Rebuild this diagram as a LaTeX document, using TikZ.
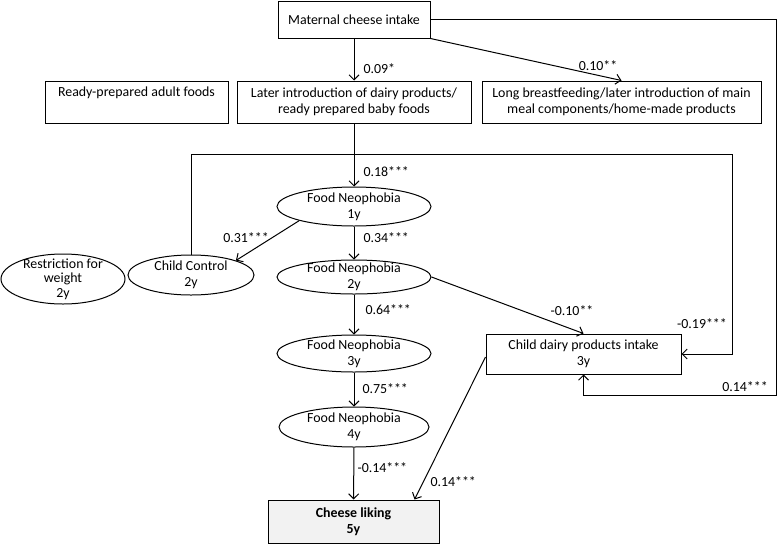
\documentclass[tikz,border=0pt]{standalone}
\usepackage{fontspec}
\setmainfont{Carlito}
\usetikzlibrary{arrows.meta,shapes.geometric}
\begin{document}
\begin{tikzpicture}[x=1pt,y=-1pt, font=\fontsize{13.9}{16}\selectfont, line width=1pt,
 arr/.style={-{Straight Barb[length=5pt,width=10pt]}},
 box/.style={draw, rectangle, inner sep=0pt, align=center},
 ell/.style={draw, ellipse, inner xsep=0pt, inner ysep=-3pt, align=center},
 lab/.style={inner sep=1pt}]
\useasboundingbox (0,0) rectangle (778,544);
% nodes
\node[box, minimum width=152pt, minimum height=37pt] (mat) at (354,19.5) {Maternal cheese intake};
\node[box, minimum width=183pt, minimum height=42pt] (adult) at (136.5,102) {Ready-prepared adult foods\\\strut};
\node[box, minimum width=234pt, minimum height=42pt] (later) at (354,102) {Later introduction of dairy products/\\ready prepared baby foods};
\node[box, minimum width=279pt, minimum height=42pt] (long) at (621.5,102) {Long breastfeeding/later introduction of main\\meal components/home-made products};
\node[ell, minimum width=154pt, minimum height=39pt] (fn1) at (354,206.5) {Food Neophobia\\1y};
\node[ell, minimum width=154pt, minimum height=34pt] (fn2) at (354,277) {Food Neophobia\\2y};
\node[ell, minimum width=154pt, minimum height=37pt] (fn3) at (354,353.5) {Food Neophobia\\3y};
\node[ell, minimum width=150pt, minimum height=40pt] (fn4) at (354,427) {Food Neophobia\\4y};
\node[ell, minimum width=126pt, minimum height=40pt] (cc) at (191,275) {Child Control\\2y};
\node[ell, minimum width=124pt, minimum height=50pt, inner ysep=-9pt, font=\fontsize{13.9}{14.5}\selectfont] (rw) at (63,279) {Restriction for\\weight\\2y};
\node[box, minimum width=195pt, minimum height=40pt] (dairy) at (583.5,354) {Child dairy products intake\\3y};
\node[box, fill=gray!10, minimum width=171pt, minimum height=43pt, font=\fontsize{13.9}{16}\selectfont\bfseries] (cheese) at (353.5,521.5) {Cheese liking\\5y};
% helper coordinates
\coordinate (c1) at (776,395);
\coordinate (c2) at (732,154);
% connectors
\draw[arr] (mat) -- (later);
\draw[arr] (mat.south east) -- (long.north);
\draw[arr] (mat.east) -| (c1) -| (dairy.south);
\draw[arr] (later) -- (fn1);
\draw[arr] (cc.north) |- (c2) |- (dairy.east);
\draw[arr] (fn1.south west) -- (cc.north east);
\draw[arr] (fn1) -- (fn2);
\draw[arr] (fn2) -- (fn3);
\draw[arr] (fn3) -- (fn4);
\draw[arr] (fn4) -- (cheese);
\draw[arr] (fn2.east) -- (dairy.north);
\draw[arr] ([yshift=-3pt]dairy.west) -- ([xshift=-25pt]cheese.north east);
% labels
\node[lab, anchor=west] (l1) at (362,69) {0.09*};
\node[lab] (l2) at (598,66) {0.10**};
\node[lab] (l3) at (745,387) {0.14***};
\node[lab, anchor=west] (l4) at (362,172) {0.18***};
\node[lab] (l5) at (702,324) {-0.19***};
\node[lab] (l6) at (246,238) {0.31***};
\node[lab, anchor=west] (l7) at (362,238) {0.34***};
\node[lab, anchor=west] (l8) at (364,310) {0.64***};
\node[lab, anchor=west] (l9) at (361,389) {0.75***};
\node[lab, anchor=west] (l10) at (356,468) {-0.14***};
\node[lab] (l11) at (572,311) {-0.10**};
\node[lab, anchor=west] (l12) at (429,482) {0.14***};
\end{tikzpicture}
\end{document}
